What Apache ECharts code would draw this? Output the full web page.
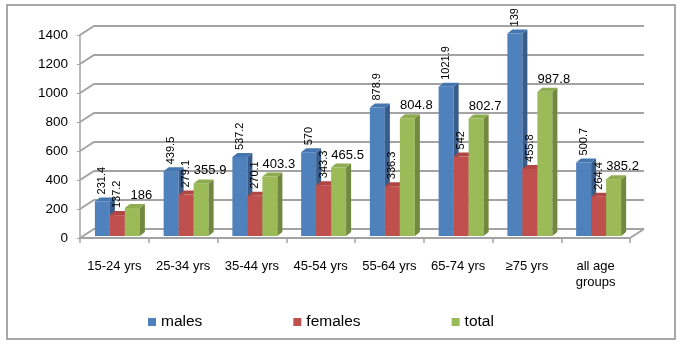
<!DOCTYPE html>
<html>
<head>
<meta charset="utf-8">
<script src="https://cdn.jsdelivr.net/npm/echarts@6/dist/echarts.min.js"></script>
<style>
html,body{margin:0;padding:0;background:#fff;}
#c{width:682px;height:347px;}
</style>
</head>
<body>
<div id="c"></div>
<script>
var categories = ['15-24 yrs','25-34 yrs','35-44 yrs','45-54 yrs','55-64 yrs','65-74 yrs','\u226575 yrs','all age\ngroups'];
var males   = [231.4, 439.5, 537.2, 570, 878.9, 1021.9, 1390, 500.7];
var females = [137.2, 279.1, 270.1, 343.3, 336.3, 542, 455.8, 264.4];
var totals  = [186, 355.9, 403.3, 465.5, 804.8, 802.7, 987.8, 385.2];
var yTicks  = [0, 200, 400, 600, 800, 1000, 1200, 1400];
var seriesNames = ['males','females','total'];

var colors = [
  {front:'#4F81BD', side:'#385D8A', top:'#4676B0'},
  {front:'#C0504D', side:'#8E3B39', top:'#B04745'},
  {front:'#9BBB59', side:'#71893F', top:'#8EAD50'}
];
var BW = 15, DX = 5, DY = -4, WX = 14, WY = -9;

function barRender(k) {
  return function (params, api) {
    var idx = api.value(0), v = api.value(1);
    var c0 = api.coord([idx, 0]);
    var c1 = api.coord([idx, v]);
    var L = c0[0] - 19.5 + BW * k;
    var B = c0[1] - 2, T = c1[1] - 3;
    var col = colors[k];
    var children = [
      {type:'rect', shape:{x:L, y:T, width:BW, height:B - T}, style:{fill:col.front}},
      {type:'polygon', shape:{points:[[L+BW,B],[L+BW,T],[L+BW+DX,T+DY],[L+BW+DX,B+DY]]}, style:{fill:col.side}},
      {type:'polygon', shape:{points:[[L,T],[L+DX,T+DY],[L+BW+DX,T+DY],[L+BW,T]]}, style:{fill:col.top}}
    ];
    var txt = String(v);
    if (k === 0 || k === 1) {
      children.push({type:'text', x:L + BW/2, y:T - 7, rotation:Math.PI/2,
        style:{text:txt, fill:'#000', font:'11px "Liberation Sans", Arial, sans-serif', align:'left', verticalAlign:'middle'}});
    } else {
      children.push({type:'text', x:L + BW/2 + 9, y:T - 6,
        style:{text:txt, fill:'#000', font:'13px "Liberation Sans", Arial, sans-serif', align:'center', verticalAlign:'bottom'}});
    }
    return {type:'group', children:children};
  };
}

function decoRender(params, api) {
  var cs = params.coordSys;
  var x0 = cs.x, x1 = cs.x + cs.width;
  var children = [];
  var ls = {stroke:'#A3A3A3', lineWidth:2, fill:null};
  for (var i = 0; i < yTicks.length; i++) {
    var y = api.coord([0, yTicks[i]])[1];
    children.push({type:'polyline', shape:{points:[[x0, y],[x0+WX, y+WY],[x1+WX, y+WY]]}, style:ls});
  }
  var y0 = api.coord([0, 0])[1];
  children.push({type:'line', shape:{x1:x1, y1:y0, x2:x1+WX, y2:y0+WY}, style:ls});
  return {type:'group', children:children};
}

var chart = echarts.init(document.getElementById('c'), null, {renderer:'canvas'});
var series = [
  {type:'custom', name:'deco', data:[[0,0]], renderItem:decoRender, clip:false, silent:true, z:1, legendHoverLink:false}
];
var dataSets = [males, females, totals];
for (var k = 0; k < 3; k++) {
  series.push({
    type:'custom', name:seriesNames[k], renderItem:barRender(k), clip:false, z:3 + k,
    itemStyle:{color:colors[k].front},
    data:dataSets[k].map(function (v, i) { return [i, v]; })
  });
}

chart.setOption({
  animation:false,
  backgroundColor:'#fff',
  grid:{left:80, right:52, top:35, bottom:109},
  xAxis:{
    type:'category', data:categories, boundaryGap:true,
    axisLine:{show:true, lineStyle:{color:'#A3A3A3', width:2}},
    axisTick:{show:true, length:5, lineStyle:{color:'#A3A3A3', width:1.5}},
    axisLabel:{margin:20, color:'#000', fontSize:13, lineHeight:16,
      fontFamily:'"Liberation Sans", Arial, sans-serif', interval:0}
  },
  yAxis:{
    type:'value', min:0, max:1400, interval:200,
    axisLine:{show:true, lineStyle:{color:'#A3A3A3', width:1.5}},
    axisTick:{show:true, length:3, lineStyle:{color:'#A3A3A3'}},
    splitLine:{show:false},
    axisLabel:{margin:12, color:'#000', fontSize:13.5, fontFamily:'"Liberation Sans", Arial, sans-serif',
      formatter:function (v) { return String(v); }}
  },
  legend:{
    data:seriesNames, left:143, top:309, itemWidth:8, itemHeight:8, itemGap:91, icon:'rect',
    textStyle:{fontSize:15.5, color:'#000', fontFamily:'"Liberation Sans", Arial, sans-serif'}
  },
  graphic:[
    {type:'rect', z:100, shape:{x:0, y:0, width:682, height:9}, style:{fill:'#fff'}},
    {type:'rect', z:101, shape:{x:7, y:5, width:668, height:334}, style:{fill:null, stroke:'#8C8C8C', lineWidth:1.5}}
  ],
  series:series
});
</script>
</body>
</html>
